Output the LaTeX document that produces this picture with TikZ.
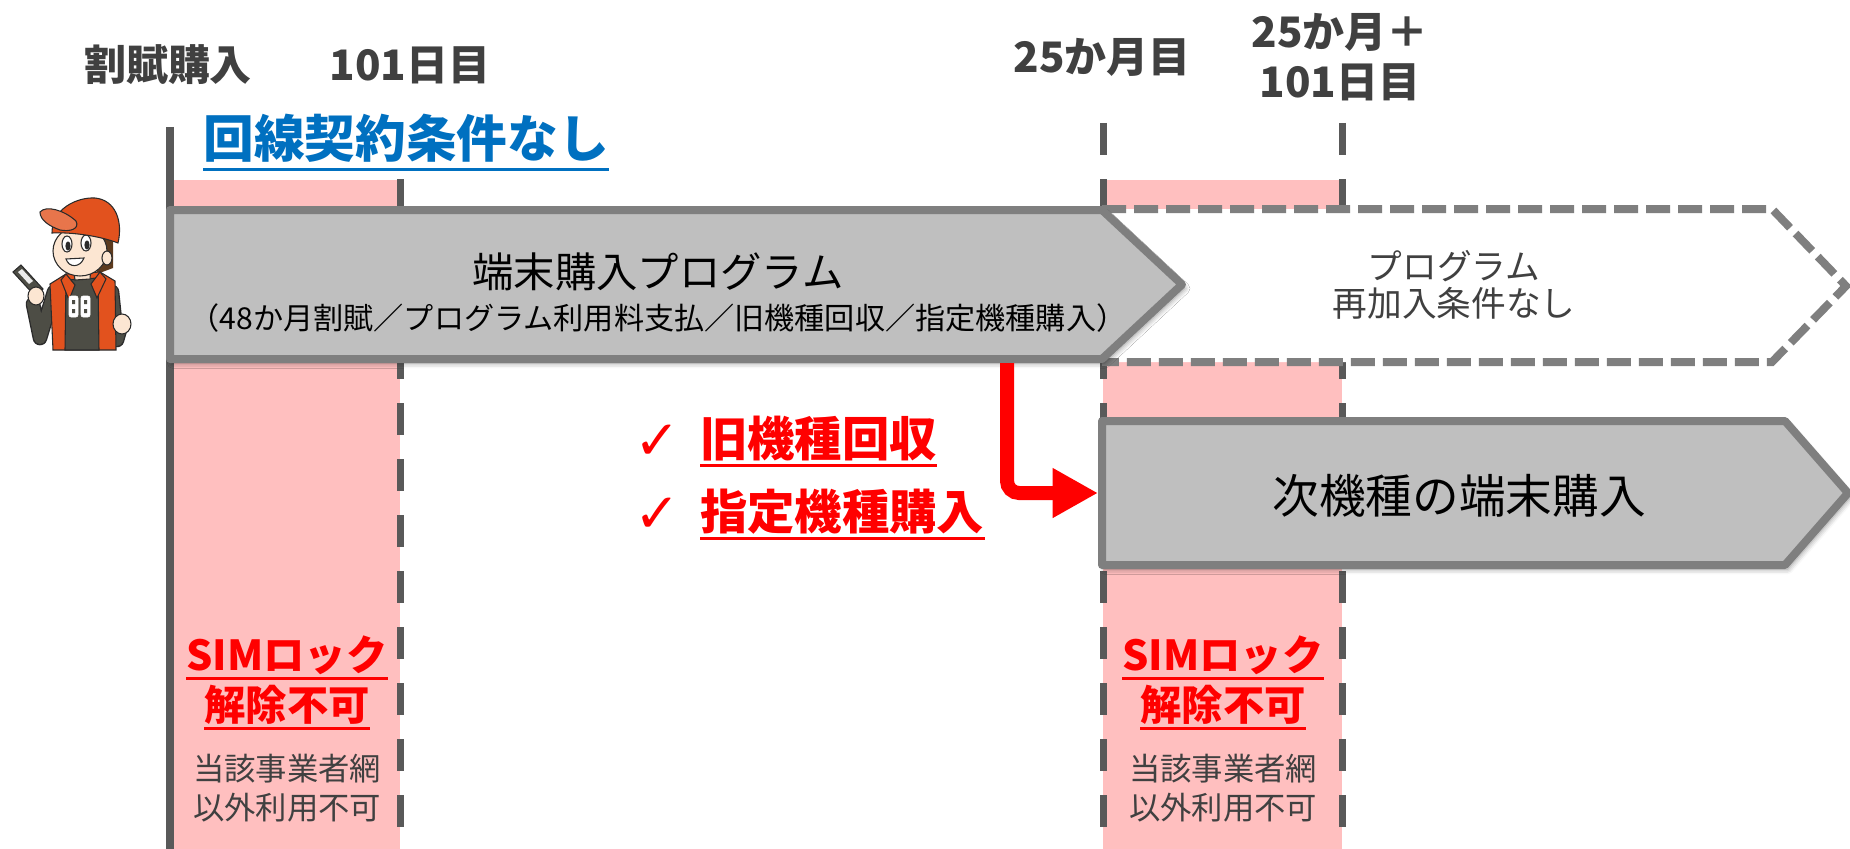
\documentclass[tikz,border=0pt]{standalone}
\usepackage{fontspec}
\setmainfont{Noto Sans CJK JP}
\newfontfamily\symfont{DejaVu Sans}
\usetikzlibrary{shadows.blur,arrows.meta}

\newcommand\setfs[2]{\fontsize{#1}{#2}\selectfont}

\definecolor{pinkband}{HTML}{FFBFBF}
\definecolor{tickline}{HTML}{595959}
\definecolor{boxfill}{HTML}{BFBFBF}
\definecolor{boxedge}{HTML}{7F7F7F}
\definecolor{labelgray}{HTML}{404040}
\definecolor{titleblue}{HTML}{0070C0}
\definecolor{alertred}{HTML}{FF0000}
\definecolor{capred}{HTML}{E2521E}
\definecolor{skin}{HTML}{FCE6D2}
\definecolor{shirtgray}{HTML}{4D4D45}
\definecolor{hairbrown}{HTML}{5C3A1E}
\definecolor{inkline}{HTML}{2B2B2B}

\tikzset{
  band/.style={fill=pinkband, draw=none},
  solidtick/.style={draw=tickline, line width=6pt},
  dashtick/.style={draw=tickline, line width=5.25pt, dash pattern=on 24pt off 18pt},
  progbox/.style={fill=boxfill, draw=boxedge, line width=6pt, line join=round,
    blur shadow={shadow xshift=2pt, shadow yshift=-3pt, shadow blur radius=4pt, shadow opacity=45}},
  openbox/.style={fill=white, draw=boxedge, line width=6pt, dash pattern=on 18pt off 6pt},
  flow/.style={draw=alertred, line width=10.5pt, rounded corners=9pt,
    -{Triangle[width=35pt,length=34pt]}},
  toplabel/.style={font=\bfseries\setfs{31.5pt}{37.5pt}, text=labelgray, inner sep=0pt, align=center},
  alertitem/.style={font=\bfseries\setfs{35.5pt}{40pt}, text=alertred, inner sep=0pt},
  simalert/.style={font=\bfseries\setfs{31pt}{36pt}, text=alertred, inner sep=0pt},
  simnote/.style={font=\setfs{23.5pt}{29pt}, text=labelgray, inner sep=0pt, align=center},
  checkmark/.style={font=\symfont\setfs{41pt}{41pt}, text=alertred, inner sep=0pt},
  redrule/.style={draw=alertred, line width=2.25pt},
  ink/.style={draw=inkline, line width=0.8pt},
}

\begin{document}
\begin{tikzpicture}[x=0.75pt, y=-0.75pt]
\useasboundingbox (0,0) rectangle (1850,849);

% restricted periods
\fill[band] (170,180) rectangle (400,849);
\fill[band] (1103,180) rectangle (1342,849);

% timeline markers
\draw[solidtick] (170,127) -- (170,849);
\draw[dashtick] (400,179) -- (400,849);
\draw[dashtick] (1103,123) -- (1103,849);
\draw[dashtick] (1342,123) -- (1342,849);

% optional re-enrolment (open arrow)
\draw[openbox] (1102,209) -- (1772,209) -- (1846,286) -- (1772,362) -- (1102,362);

% program arrow
\draw[progbox] (170,210) -- (1102,210) -- (1182,284.5) -- (1102,359) -- (170,359) -- cycle;
\coordinate (progout) at (1007,363);

% next purchase arrow
\draw[progbox] (1102,421) -- (1785,421) -- (1848,493) -- (1785,565) -- (1102,565) -- cycle;
\coordinate (nextin) at (1098,493);

% transition
\draw[flow] (progout) |- (nextin);

% top labels
\node[toplabel] (lblstart) at (168,65) {割賦購入};
\node[toplabel] (lbl101) at (410,65) {101日目};
\node[toplabel] (lbl25) at (1102,57) {25か月目};
\node[toplabel] (lbl25p) at (1340,57) {25か月＋\\101日目};

% condition title
\node[font=\bfseries\setfs{38pt}{44pt}, text=titleblue, inner sep=0pt] (cond) at (406,138) {回線契約条件なし};
\draw[titleblue, line width=2.25pt] ([yshift=-5pt]cond.south west) -- ([yshift=-5pt]cond.south east);

% box texts
\node[font=\setfs{31pt}{36pt}, inner sep=0pt] (progtitle) at (658,272) {端末購入プログラム};
\node[font=\setfs{22.6pt}{26pt}, inner sep=0pt] (progsub) at (658,318) {（48か月割賦／プログラム利用料支払／旧機種回収／指定機種購入）};
\node[font=\setfs{26pt}{28pt}, text=labelgray, inner sep=0pt, align=center] (rejoin) at (1454,285) {プログラム\\再加入条件なし};
\node[font=\setfs{35pt}{40pt}, inner sep=0pt] (nextbuy) at (1459,496) {次機種の端末購入};

% requirements
\node[checkmark] (chk1) at (657,442) {✓};
\node[checkmark] (chk2) at (657,515) {✓};
\node[alertitem, anchor=west] (req1) at (700,439) {旧機種回収};
\node[alertitem, anchor=west] (req2) at (700,512) {指定機種購入};
\draw[redrule] ([yshift=-3pt]req1.south west) -- ([yshift=-3pt]req1.south east);
\draw[redrule] ([yshift=-3pt]req2.south west) -- ([yshift=-3pt]req2.south east);

% SIM lock notes
\foreach \cx/\nm in {287/L, 1223/R}{
  \node[simalert] (sima\nm) at (\cx,655) {SIMロック};
  \node[simalert] (simb\nm) at (\cx,705) {解除不可};
  \draw[redrule] ([yshift=-3pt]sima\nm.south west) -- ([yshift=-3pt]sima\nm.south east);
  \draw[redrule] ([yshift=-3pt]simb\nm.south west) -- ([yshift=-3pt]simb\nm.south east);
  \node[simnote] (simn\nm) at (\cx,788) {当該事業者網\\以外利用不可};
}

% customer figure
\begin{scope}
  % hair behind the head
  \fill[hairbrown] (94,234) -- (113,238) -- (113,268) -- (97,274) -- cycle;
  % sleeves
  \draw[inkline, line width=11pt, line cap=round, line join=round] (54,292) -- (40,338) -- (33,304);
  \draw[shirtgray, line width=9pt, line cap=round, line join=round] (54,292) -- (40,338) -- (33,304);
  \draw[inkline, line width=11pt, line cap=round, line join=round] (112,292) -- (117,340) -- (121,326);
  \draw[shirtgray, line width=9pt, line cap=round, line join=round] (112,292) -- (117,340) -- (121,326);
  % jacket
  \filldraw[fill=capred, ink] (50,284) -- (66,274) -- (100,272) -- (115,281) -- (116,350) -- (53,350) -- cycle;
  % shirt
  \filldraw[fill=shirtgray, ink] (66,280) -- (98,278) -- (99,350) -- (65,350) -- cycle;
  % collar
  \filldraw[fill=capred, ink] (66,274) -- (75,285) -- (69,300) -- (61,280) -- cycle;
  \filldraw[fill=capred, ink] (100,272) -- (91,284) -- (97,298) -- (106,279) -- cycle;
  % neck
  \filldraw[fill=skin, ink] (73,266) -- (91,266) -- (90,279) -- (75,280) -- cycle;
  % shirt print
  \filldraw[fill=white, draw=white, rounded corners=1.5pt] (69,296) rectangle (78,317);
  \filldraw[fill=white, draw=white, rounded corners=1.5pt] (81,296) rectangle (90,317);
  \fill[shirtgray] (72,300) rectangle (75,304) (72,309) rectangle (75,313);
  \fill[shirtgray] (84,300) rectangle (87,304) (84,309) rectangle (87,313);
  % face
  \filldraw[fill=skin, ink] (80,251) ellipse [x radius=27, y radius=25];
  \filldraw[fill=skin, ink] (107,258) ellipse [x radius=5, y radius=7];
  % eyes
  \filldraw[fill=white, ink] (67,244) ellipse [x radius=5, y radius=8];
  \filldraw[fill=white, ink] (86,243) ellipse [x radius=5, y radius=8];
  \fill[inkline] (68,246) ellipse [x radius=2.6, y radius=4.6];
  \fill[inkline] (87,245) ellipse [x radius=2.6, y radius=4.6];
  % mouth
  \filldraw[fill=white, ink] (66,259) .. controls (69,268) and (80,268) .. (84,258) -- cycle;
  % cap
  \filldraw[fill=capred, ink] (52,233) .. controls (52,208) and (78,197) .. (95,198)
    .. controls (116,200) and (123,222) .. (118,243)
    .. controls (100,236) and (72,232) .. (52,233) -- cycle;
  \filldraw[fill=capred!80!white, ink] (40,212) .. controls (46,205) and (64,210) .. (76,221)
    .. controls (80,229) and (70,232) .. (60,230)
    .. controls (49,226) and (40,220) .. (40,212) -- cycle;
  % phone in hand
  \filldraw[fill=shirtgray, ink] (13,272) -- (21,265) -- (43,289) -- (35,296) -- cycle;
  \fill[white!85!gray] (18,272) -- (22,269) -- (33,281) -- (29,284) -- cycle;
  \filldraw[fill=skin, ink] (36,296) ellipse [x radius=8, y radius=9];
  % fist
  \filldraw[fill=skin, ink] (122,324) ellipse [x radius=9, y radius=10];
\end{scope}
\end{tikzpicture}
\end{document}
